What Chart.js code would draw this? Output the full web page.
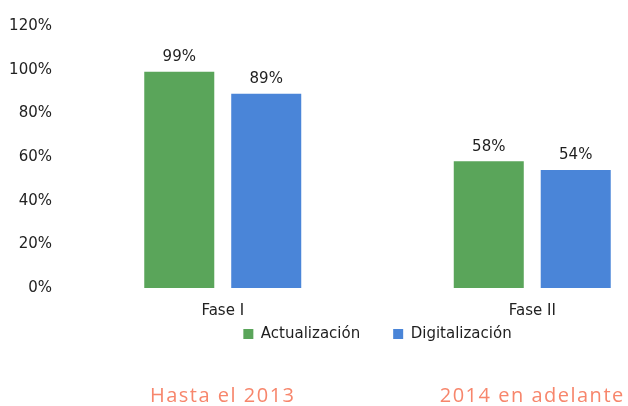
<!DOCTYPE html>
<html>
<head>
<meta charset="utf-8">
<script src="https://cdn.jsdelivr.net/npm/chart.js@4"></script>
<style>
  html, body { margin: 0; padding: 0; background: #fff; }
  #wrap { width: 628px; height: 406px; overflow: hidden; position: relative; }
  #box { width: 700px; height: 406px; position: absolute; left: 0; top: 0; }
</style>
</head>
<body>
<div id="wrap"><div id="box"><canvas id="c"></canvas></div></div>
<script>
const categories = ['Fase I', 'Fase II'];
const periodLabels = ['Hasta el 2013', '2014 en adelante'];
const actualizacion = [99, 58];
const digitalizacion = [89, 54];
const yTicks = [0, 20, 40, 60, 80, 100, 120];

const FONT = '"DejaVu Sans", "Liberation Sans", Arial, sans-serif';
const LEGEND_PAD = 33;

const valueLabels = {
  id: 'valueLabels',
  afterDatasetsDraw(chart) {
    const ctx = chart.ctx;
    ctx.save();
    ctx.font = '15px ' + FONT;
    ctx.fillStyle = '#1e1e1e';
    ctx.textAlign = 'center';
    ctx.textBaseline = 'bottom';
    chart.data.datasets.forEach((ds, i) => {
      chart.getDatasetMeta(i).data.forEach((bar, j) => {
        ctx.fillText(ds.data[j] + '%', bar.x, bar.y - 7);
      });
    });
    ctx.restore();
  }
};

// keep the wide horizontal gap between legend items, but tighten the vertical gap
const legendShift = {
  id: 'legendShift',
  afterLayout(chart) {
    const lg = chart.legend;
    if (!lg) return;
    const d = LEGEND_PAD - 6.5;
    lg.top -= d;
    lg.bottom -= d;
  }
};

const periodText = {
  id: 'periodText',
  afterDraw(chart) {
    const ctx = chart.ctx;
    const xs = chart.scales.x;
    ctx.save();
    ctx.font = '20px "Open Sans", sans-serif';
    if ('letterSpacing' in ctx) ctx.letterSpacing = '1.5px';
    ctx.fillStyle = 'rgb(247,134,108)';
    ctx.textAlign = 'center';
    ctx.textBaseline = 'alphabetic';
    periodLabels.forEach((t, i) => {
      ctx.fillText(t, xs.getPixelForValue(i), chart.height - 4);
    });
    ctx.restore();
  }
};

new Chart(document.getElementById('c'), {
  type: 'bar',
  data: {
    labels: categories,
    datasets: [
      { label: 'Actualización', data: actualizacion, backgroundColor: '#5aa55a',
        barPercentage: 0.805, categoryPercentage: 0.562 },
      { label: 'Digitalización', data: digitalizacion, backgroundColor: '#4a85d8',
        barPercentage: 0.805, categoryPercentage: 0.562 }
    ]
  },
  options: {
    responsive: true,
    maintainAspectRatio: false,
    animation: false,
    layout: { padding: { top: 26, right: 13, bottom: 28, left: 0 } },
    plugins: {
      legend: {
        position: 'bottom',
        fullSize: false,
        labels: {
          boxWidth: 10, boxHeight: 10, padding: LEGEND_PAD,
          color: '#1e1e1e',
          font: { family: FONT, size: 15 }
        }
      },
      tooltip: { enabled: false }
    },
    scales: {
      x: {
        grid: { display: false, drawTicks: false, tickLength: 0 },
        border: { display: false },
        ticks: { color: '#222', padding: 14, autoSkip: false,
          font: { family: FONT, size: 15 } },
        afterFit(scale) { scale.height = 32; }
      },
      y: {
        min: 0, max: 120,
        afterBuildTicks(scale) { scale.ticks = yTicks.map(v => ({ value: v })); },
        grid: { display: false },
        border: { display: false },
        ticks: { color: '#222', padding: 8,
          font: { family: FONT, size: 15 },
          callback: v => v + '%' },
        afterFit(scale) { scale.width = 68; }
      }
    }
  },
  plugins: [valueLabels, legendShift, periodText]
});
</script>
</body>
</html>
